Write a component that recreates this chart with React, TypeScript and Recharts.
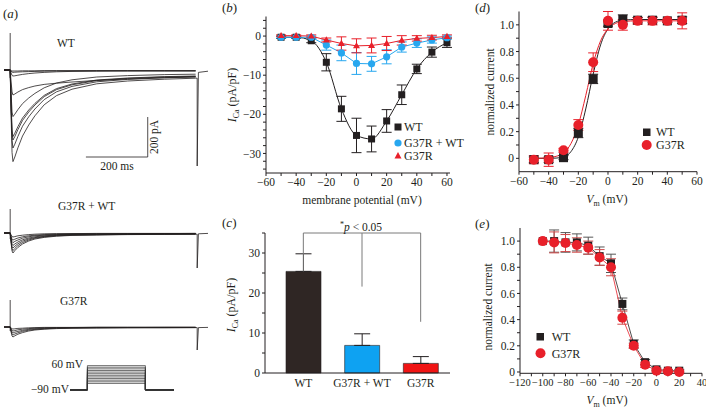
import React from 'react';
import { LineChart, BarChart, Line, Bar, Cell, XAxis, YAxis, ErrorBar, ReferenceLine } from 'recharts';

const FONT = 'Liberation Serif, Times New Roman, serif';
const INK = '#231f20';
const RED = '#e8202a';
const BLUE = '#27a7ef';

// ---------- Panel (a): current traces ----------
const traceTimes = [-20, 0, 3, 6, 9, 15, 25, 40, 60, 80, 110, 150, 200, 280, 380, 500, 600];
const wtTraces = [
  [0, 0, -229, -412, -458, -435, -389, -330, -275, -229, -174, -128, -96, -69, -55, -46, -41],
  [0, 0, -195, -351, -390, -371, -332, -281, -234, -195, -148, -109, -82, -59, -47, -39, -35],
  [0, 0, -175, -315, -350, -333, -298, -252, -210, -175, -133, -98, -74, -53, -42, -35, -32],
  [0, 0, -167, -300, -333, -316, -283, -240, -200, -167, -127, -93, -70, -50, -40, -33, -30],
  [0, 0, -117, -210, -233, -221, -198, -168, -140, -117, -89, -65, -49, -35, -28, -23, -21],
  [0, 0, -60, -110, -125, -120, -110, -98, -88, -80, -72, -66, -60, -52, -45, -38, -34],
  [0, 0, -15, -27, -30, -29, -26, -22, -18, -15, -12, -9, -7, -6, -5, -5, -5],
  [0, 0, -6, -10, -12, -11, -10, -9, -8, -7, -6, -5, -5, -4, -4, -4, -4],
  [0, 0, -3, -5, -5, -5, -5, -4, -4, -4, -3, -3, -3, -3, -3, -3, -3],
];
const mixTraces = [
  [0, 0, -50, -90, -100, -88, -72, -55, -40, -30, -22, -16, -12, -10, -8, -7, -6],
  [0, 0, -44, -79, -88, -77, -63, -48, -35, -26, -19, -14, -11, -9, -7, -6, -5],
  [0, 0, -38, -68, -75, -66, -54, -41, -30, -23, -17, -12, -9, -8, -6, -5, -5],
  [0, 0, -31, -56, -62, -55, -45, -34, -25, -19, -14, -10, -7, -6, -5, -4, -4],
  [0, 0, -24, -43, -48, -42, -35, -26, -19, -14, -11, -8, -6, -5, -4, -3, -3],
  [0, 0, -18, -32, -35, -31, -25, -19, -14, -11, -8, -6, -4, -4, -3, -3, -2],
  [0, 0, -10, -18, -20, -18, -14, -11, -8, -6, -4, -3, -3, -2, -2, -2, -2],
];
const g37rTraces = [
  [0, 0, -25, -45, -50, -44, -36, -28, -20, -15, -11, -8, -6, -5, -4, -4, -3],
  [0, 0, -20, -36, -40, -35, -29, -22, -16, -12, -9, -6, -5, -4, -3, -3, -3],
  [0, 0, -15, -27, -30, -26, -22, -17, -12, -9, -7, -5, -4, -3, -3, -2, -2],
  [0, 0, -10, -18, -20, -18, -14, -11, -8, -6, -4, -3, -3, -2, -2, -2, -2],
  [0, 0, -5, -9, -10, -9, -7, -6, -4, -3, -2, -2, -2, -1, -1, -1, -1],
];
const artifactTimes = [0, 0];
const wtArtifact = [185, -40];
const mixArtifact = [120, -30];
const g37rArtifact = [135, -20];
const tailTimes = [600, 605, 605, 609, 640];
const wtTail = [-41, -41, -480, -12, -6];
const mixTail = [-6, -6, -175, -4, -2];
const g37rTail = [-3, -3, -115, -3, -2];
const scaleBarTimes = [245, 445, 445];
const scaleBarCurrents = [-435, -435, -235];

// voltage protocol
const protocolTimes = [-180, 0, 0, 600, 600, 900];
const holdingPotential = -90;
const stepLevels = [-50, -40, -30, -20, -10, 0, 10, 20, 30, 40, 50, 60];

// ---------- Panel (b): I-V ----------
const ivVoltages = [-50, -40, -30, -20, -10, 0, 10, 20, 30, 40, 50, 60];
const ivWT = [-0.3, -0.3, -1.2, -6.7, -18.6, -25.4, -26.3, -21.7, -15.0, -8.4, -4.1, -1.7];
const ivWTErr = [0.3, 0.3, 0.5, 2.2, 3.2, 4.4, 3.3, 2.9, 2.5, 1.2, 1.3, 1.2];
const ivMix = [-0.3, -0.3, -0.3, -2.3, -4.3, -7.0, -7.1, -5.3, -2.8, -1.8, -1.0, -0.4];
const ivMixErr = [0.2, 0.2, 0.3, 1.3, 2.0, 2.8, 1.9, 1.8, 1.3, 1.1, 0.8, 0.4];
const ivG37R = [0.1, 0.1, 0.0, -1.0, -1.9, -2.5, -2.4, -1.9, -1.1, -0.6, -0.4, -0.1];
const ivG37RErr = [0.2, 0.2, 0.3, 0.5, 1.7, 1.8, 1.9, 1.8, 1.2, 0.7, 0.6, 0.4];
const ivXTicks = [-60, -50, -40, -30, -20, -10, 0, 10, 20, 30, 40, 50, 60];
const ivYTicks = [4, 2, 0, -2, -4, -6, -8, -10, -12, -14, -16, -18, -20, -22, -24, -26, -28, -30, -32, -34];

// ---------- Panel (c): bars ----------
const barGroups = ['WT', 'G37R + WT', 'G37R'];
const barMeans = [25.4, 6.9, 2.4];
const barErrs = [4.4, 2.9, 1.7];
const barColors = ['#2f2624', '#0ea2f2', '#f01414'];
const barYTicks = [0, 5, 10, 15, 20, 25, 30, 35];
const bracketTop = 35;
const bracketEnds = [25.4, 21.6, 12.8];

// ---------- Panel (d): activation ----------
const actV = [-50, -40, -30, -20, -10, 0, 10, 20, 30, 40, 50];
const actWT = [-0.01, -0.01, 0.005, 0.19, 0.595, 1.01, 1.04, 1.035, 1.035, 1.03, 1.035];
const actWTErr = [0.02, 0.02, 0.015, 0.035, 0.035, 0.02, 0.035, 0.02, 0.02, 0.01, 0.025];
const actG = [-0.01, -0.01, 0.06, 0.25, 0.72, 1.03, 1.0, 1.03, 1.03, 1.03, 1.03];
const actGErr = [0.03, 0.05, 0.015, 0.04, 0.07, 0.07, 0.04, 0.025, 0.03, 0.01, 0.06];
const fitV = [-50, -40, -35, -30, -25, -20, -15, -10, -5, 0, 5, 10, 20, 30, 40, 50];
const fitWT = [0, 0, 0.002, 0.01, 0.05, 0.16, 0.37, 0.63, 0.85, 0.97, 1.02, 1.035, 1.04, 1.04, 1.04, 1.04];
const fitG = [0, 0.005, 0.015, 0.04, 0.11, 0.25, 0.47, 0.71, 0.88, 0.97, 1.01, 1.025, 1.03, 1.03, 1.03, 1.03];
const actXTicks = [-60, -50, -40, -30, -20, -10, 0, 10, 20, 30, 40, 50, 60];
const normYTicks = [0, 0.1, 0.2, 0.3, 0.4, 0.5, 0.6, 0.7, 0.8, 0.9, 1.0];
const normYLabels = [0, 0.2, 0.4, 0.6, 0.8, 1.0];

// ---------- Panel (e): inactivation ----------
const inV = [-100, -90, -80, -70, -60, -50, -40, -30, -20, -10, 0, 10, 20];
const inWT = [1.0, 1.0, 0.99, 0.99, 0.965, 0.885, 0.83, 0.52, 0.215, 0.075, 0.02, 0.01, 0.01];
const inWTErr = [0, 0.085, 0.075, 0.065, 0.065, 0.07, 0.07, 0.045, 0.03, 0.02, 0.01, 0.01, 0.01];
const inG = [1.0, 0.99, 0.985, 0.97, 0.95, 0.875, 0.80, 0.415, 0.20, 0.055, 0.01, 0.005, 0.0];
const inGErr = [0, 0.08, 0.065, 0.055, 0.05, 0.06, 0.065, 0.05, 0.02, 0.02, 0.01, 0.01, 0.01];
const inXTicks = [-120, -110, -100, -90, -80, -70, -60, -50, -40, -30, -20, -10, 0, 10, 20, 30, 40];

// ---------- helpers ----------
const toSeries = (times: number[], vals: number[]) => times.map((t, i) => ({ t, v: vals[i] }));
const minus = (v: number) => (v < 0 ? '\u2212' + Math.abs(v) : String(v));
const every20 = (v: number) => (Math.round(v) % 20 === 0 ? minus(v) : '');
const every10 = (v: number) => (Math.round(v) % 10 === 0 ? minus(v) : '');
const normFmt = (v: number) => {
  const hit = normYLabels.some((l) => Math.abs(l - v) < 1e-6);
  if (!hit) return '';
  return Math.abs(v) < 1e-6 ? '0' : v.toFixed(1);
};

const tickStyle = { fontSize: 11.5, fill: INK, fontFamily: FONT };
const smallTickStyle = { fontSize: 10.5, fill: INK, fontFamily: FONT };
const axisLine = { stroke: INK, strokeWidth: 1 };

const squareDot = (size: number, fill: string) => (p: any) => {
  if (p.cx == null || p.cy == null) return <g key={`sq${p.index}`} />;
  return <rect key={`sq${p.index}`} x={p.cx - size / 2} y={p.cy - size / 2} width={size} height={size} fill={fill} />;
};
const circleDot = (r: number, fill: string) => (p: any) => {
  if (p.cx == null || p.cy == null) return <g key={`c${p.index}`} />;
  return <circle key={`c${p.index}`} cx={p.cx} cy={p.cy} r={r} fill={fill} />;
};
const triDot = (s: number, fill: string) => (p: any) => {
  if (p.cx == null || p.cy == null) return <g key={`t${p.index}`} />;
  const h = s * 0.87;
  return (
    <polygon
      key={`t${p.index}`}
      points={`${p.cx},${p.cy - h * 0.6} ${p.cx - s / 2},${p.cy + h * 0.4} ${p.cx + s / 2},${p.cy + h * 0.4}`}
      fill={fill}
    />
  );
};

function TracePanel({ left, top, width, height, xDomain, yDomain, series, stroke = INK, strokeWidth = 0.8 }: any) {
  return (
    <div style={{ position: 'absolute', left, top }}>
      <LineChart width={width} height={height} margin={{ top: 0, right: 0, bottom: 0, left: 0 }}>
        <XAxis type="number" dataKey="t" domain={xDomain} hide allowDataOverflow />
        <YAxis type="number" domain={yDomain} hide allowDataOverflow />
        {series.map((d: any, i: number) => (
          <Line
            key={i}
            data={d}
            dataKey="v"
            type="linear"
            stroke={stroke}
            strokeWidth={strokeWidth}
            dot={false}
            activeDot={false}
            isAnimationActive={false}
          />
        ))}
      </LineChart>
    </div>
  );
}

export default function App() {
  const wtSeries = [
    ...wtTraces.map((tr) => toSeries(traceTimes, tr)),
    toSeries(artifactTimes, wtArtifact),
    toSeries(tailTimes, wtTail),
    toSeries(scaleBarTimes, scaleBarCurrents),
  ];
  const mixSeries = [
    ...mixTraces.map((tr) => toSeries(traceTimes, tr)),
    toSeries(artifactTimes, mixArtifact),
    toSeries(tailTimes, mixTail),
  ];
  const g37rSeries = [
    ...g37rTraces.map((tr) => toSeries(traceTimes, tr)),
    toSeries(artifactTimes, g37rArtifact),
    toSeries(tailTimes, g37rTail),
  ];
  const protocolSeries = stepLevels.map((lv) =>
    toSeries(protocolTimes, [holdingPotential, holdingPotential, lv, lv, holdingPotential, holdingPotential])
  );

  const ivData = ivVoltages.map((v, i) => ({
    v,
    wt: ivWT[i],
    wtErr: ivWTErr[i],
    mix: ivMix[i],
    mixErr: ivMixErr[i],
    g: ivG37R[i],
    gErr: ivG37RErr[i],
  }));

  const barData = barGroups.map((g, i) => ({ group: g, mean: barMeans[i], err: [0, barErrs[i]] }));

  const actWTPts = actV.map((v, i) => ({ v, y: actWT[i], e: actWTErr[i] }));
  const actGPts = actV.map((v, i) => ({ v, y: actG[i], e: actGErr[i] }));
  const fitWTData = fitV.map((v, i) => ({ v, y: fitWT[i] }));
  const fitGData = fitV.map((v, i) => ({ v, y: fitG[i] }));

  const inWTPts = inV.map((v, i) => ({ v, y: inWT[i], e: inWTErr[i] }));
  const inGPts = inV.map((v, i) => ({ v, y: inG[i], e: inGErr[i] }));

  return (
    <div style={{ position: 'absolute', left: 0, top: 0, width: 707, height: 410, background: '#fff', overflow: 'hidden', fontFamily: FONT }}>
      {/* Panel (a) traces */}
      <TracePanel left={4} top={30} width={204} height={140} xDomain={[-20, 640]} yDomain={[-500, 200]} series={wtSeries} />
      <TracePanel left={4} top={203} width={204} height={70} xDomain={[-20, 640]} yDomain={[-200, 150]} series={mixSeries} />
      <TracePanel left={4} top={297} width={204} height={60} xDomain={[-20, 640]} yDomain={[-150, 150]} series={g37rSeries} />
      <TracePanel left={70} top={364.1} width={104.4} height={27.5} xDomain={[-180, 900]} yDomain={[-100, 70]} series={protocolSeries} stroke="#333" strokeWidth={0.7} />

      {/* Panel (b) */}
      <div style={{ position: 'absolute', left: 196, top: 0 }}>
        <LineChart width={260} height={213} data={ivData} margin={{ top: 16.5, right: 6, bottom: 0, left: 0 }}>
          <XAxis
            type="number"
            dataKey="v"
            domain={[-60, 62]}
            ticks={ivXTicks}
            interval={0}
            tickFormatter={every20}
            height={40}
            tickSize={3}
            tick={tickStyle}
            axisLine={axisLine}
            tickLine={axisLine}
          />
          <YAxis
            type="number"
            domain={[-35, 5]}
            ticks={ivYTicks}
            interval={0}
            tickFormatter={every10}
            width={70}
            tickSize={3}
            tick={tickStyle}
            axisLine={axisLine}
            tickLine={axisLine}
          />
          <Line dataKey="wt" type="monotone" stroke={INK} strokeWidth={1} dot={squareDot(7, INK)} activeDot={false} isAnimationActive={false}>
            <ErrorBar dataKey="wtErr" width={5} stroke={INK} strokeWidth={1} direction="y" />
          </Line>
          <Line dataKey="mix" type="linear" stroke={BLUE} strokeWidth={1} dot={circleDot(3.6, BLUE)} activeDot={false} isAnimationActive={false}>
            <ErrorBar dataKey="mixErr" width={5} stroke={BLUE} strokeWidth={1} direction="y" />
          </Line>
          <Line dataKey="g" type="linear" stroke={RED} strokeWidth={1} dot={triDot(7, RED)} activeDot={false} isAnimationActive={false}>
            <ErrorBar dataKey="gErr" width={5} stroke={RED} strokeWidth={1} direction="y" />
          </Line>
        </LineChart>
      </div>

      {/* Panel (c) */}
      <div style={{ position: 'absolute', left: 195, top: 220 }}>
        <BarChart width={260} height={183} data={barData} margin={{ top: 13, right: 5, bottom: 0, left: 0 }}>
          <XAxis
            dataKey="group"
            type="category"
            padding={{ left: 9, right: 0 }}
            tickLine={false}
            tickSize={4}
            height={30}
            interval={0}
            tick={tickStyle}
            axisLine={axisLine}
          />
          <YAxis
            type="number"
            domain={[0, 35]}
            ticks={barYTicks}
            interval={0}
            tickFormatter={every10}
            width={70}
            tickSize={3}
            tick={tickStyle}
            axisLine={axisLine}
            tickLine={axisLine}
          />
          <Bar dataKey="mean" barSize={35} stroke={INK} strokeWidth={0.6} isAnimationActive={false}>
            {barData.map((d, i) => (
              <Cell key={d.group} fill={barColors[i]} />
            ))}
            <ErrorBar dataKey="err" width={8} stroke={INK} strokeWidth={1} direction="y" />
          </Bar>
          <ReferenceLine
            segment={[
              { x: barGroups[0], y: bracketTop },
              { x: barGroups[2], y: bracketTop },
            ]}
            stroke="#7a7a7a"
            strokeWidth={1}
            ifOverflow="visible"
          />
          {barGroups.map((g, i) => (
            <ReferenceLine
              key={g}
              segment={[
                { x: g, y: bracketTop },
                { x: g, y: bracketEnds[i] },
              ]}
              stroke="#7a7a7a"
              strokeWidth={1}
              ifOverflow="visible"
            />
          ))}
        </BarChart>
      </div>

      {/* Panel (d) */}
      <div style={{ position: 'absolute', left: 449, top: 0 }}>
        <LineChart width={254} height={201.7} margin={{ top: 11.5, right: 6, bottom: 0, left: 0 }}>
          <XAxis
            type="number"
            dataKey="v"
            domain={[-60, 60]}
            ticks={actXTicks}
            interval={0}
            tickFormatter={every20}
            height={30}
            tickSize={3}
            tick={tickStyle}
            axisLine={axisLine}
            tickLine={axisLine}
          />
          <YAxis
            type="number"
            domain={[-0.1, 1.1]}
            ticks={normYTicks}
            interval={0}
            tickFormatter={normFmt}
            width={70}
            tickSize={3}
            tick={tickStyle}
            axisLine={axisLine}
            tickLine={axisLine}
          />
          <Line data={fitWTData} dataKey="y" type="monotone" stroke={INK} strokeWidth={1} dot={false} activeDot={false} isAnimationActive={false} />
          <Line data={fitGData} dataKey="y" type="monotone" stroke={RED} strokeWidth={1} dot={false} activeDot={false} isAnimationActive={false} />
          <Line data={actWTPts} dataKey="y" stroke="none" dot={squareDot(9, INK)} activeDot={false} isAnimationActive={false}>
            <ErrorBar dataKey="e" width={5} stroke={INK} strokeWidth={1} direction="y" />
          </Line>
          <Line data={actGPts} dataKey="y" stroke="none" dot={circleDot(5, RED)} activeDot={false} isAnimationActive={false}>
            <ErrorBar dataKey="e" width={5} stroke={RED} strokeWidth={1} direction="y" />
          </Line>
        </LineChart>
      </div>

      {/* Panel (e) */}
      <div style={{ position: 'absolute', left: 450, top: 215 }}>
        <LineChart width={256} height={188.3} margin={{ top: 13, right: 4, bottom: 0, left: 0 }}>
          <XAxis
            type="number"
            dataKey="v"
            domain={[-120, 40]}
            ticks={inXTicks}
            interval={0}
            tickFormatter={every20}
            height={30}
            tickSize={3}
            tick={smallTickStyle}
            axisLine={axisLine}
            tickLine={axisLine}
          />
          <YAxis
            type="number"
            domain={[0, 1.1]}
            ticks={normYTicks}
            interval={0}
            tickFormatter={normFmt}
            width={70}
            tickSize={3}
            tick={tickStyle}
            axisLine={axisLine}
            tickLine={axisLine}
          />
          <Line data={inWTPts} dataKey="y" type="linear" stroke={INK} strokeWidth={0.8} dot={squareDot(8, INK)} activeDot={false} isAnimationActive={false}>
            <ErrorBar dataKey="e" width={5} stroke="#555" strokeWidth={1} direction="y" />
          </Line>
          <Line data={inGPts} dataKey="y" type="linear" stroke={RED} strokeWidth={0.8} dot={circleDot(5, RED)} activeDot={false} isAnimationActive={false}>
            <ErrorBar dataKey="e" width={5} stroke="#d04a4a" strokeWidth={1} direction="y" />
          </Line>
        </LineChart>
      </div>

      {/* Text & legends overlay */}
      <svg width={707} height={410} style={{ position: 'absolute', left: 0, top: 0, pointerEvents: 'none' }} fontFamily={FONT} fill={INK}>
        <text x={3} y={18} fontSize={13}>(<tspan fontStyle="italic">a</tspan>)</text>
        <text x={222} y={12} fontSize={13}>(<tspan fontStyle="italic">b</tspan>)</text>
        <text x={222} y={227} fontSize={13}>(<tspan fontStyle="italic">c</tspan>)</text>
        <text x={475} y={12} fontSize={13}>(<tspan fontStyle="italic">d</tspan>)</text>
        <text x={475} y={228} fontSize={13}>(<tspan fontStyle="italic">e</tspan>)</text>

        <text x={57} y={47} fontSize={11.5}>WT</text>
        <text x={58} y={210} fontSize={11.5}>G37R + WT</text>
        <text x={60} y={305} fontSize={11.5}>G37R</text>
        <text x={117} y={170} fontSize={11.5} textAnchor="middle">200 ms</text>
        <text transform="translate(158,137) rotate(-90)" fontSize={11.5} textAnchor="middle">200 pA</text>
        <text x={83} y={368} fontSize={11.5} textAnchor="end">60 mV</text>
        <text x={69} y={393} fontSize={11.5} textAnchor="end">{'\u221290 mV'}</text>

        {/* (b) labels */}
        <text transform="translate(236,95) rotate(-90)" fontSize={12} textAnchor="middle">
          <tspan fontStyle="italic">I</tspan>
          <tspan fontSize={8} dy={3}>Ca</tspan>
          <tspan dy={-3}> (pA/pF)</tspan>
        </text>
        <text x={362} y={204} fontSize={11.5} textAnchor="middle">membrane potential (mV)</text>
        <rect x={394.5} y={123.5} width={7} height={7} fill={INK} />
        <text x={404} y={131} fontSize={12}>WT</text>
        <circle cx={398} cy={143} r={3.6} fill={BLUE} />
        <text x={404} y={147} fontSize={12}>G37R + WT</text>
        <polygon points="398,152 394.5,158.5 401.5,158.5" fill={RED} />
        <text x={404} y={160} fontSize={12}>G37R</text>

        {/* (c) labels */}
        <text transform="translate(235,305) rotate(-90)" fontSize={12} textAnchor="middle">
          <tspan fontStyle="italic">I</tspan>
          <tspan fontSize={8} dy={3}>Ca</tspan>
          <tspan dy={-3}> (pA/pF)</tspan>
        </text>
        <text x={340} y={231} fontSize={11.5}>
          <tspan fontSize={8} dy={-4}>*</tspan>
          <tspan fontStyle="italic" dy={4}>p</tspan>
          <tspan>{' < 0.05'}</tspan>
        </text>

        {/* (d) labels */}
        <text transform="translate(494,92) rotate(-90)" fontSize={11.5} textAnchor="middle">normalized current</text>
        <text x={607} y={203} fontSize={11.5} textAnchor="middle">
          <tspan fontStyle="italic">V</tspan>
          <tspan fontSize={8} dy={3}>m</tspan>
          <tspan dy={-3}> (mV)</tspan>
        </text>
        <rect x={643} y={128.5} width={7.5} height={7.5} fill={INK} />
        <text x={656} y={136} fontSize={12}>WT</text>
        <circle cx={646.7} cy={145} r={5} fill={RED} />
        <text x={656} y={149} fontSize={12}>G37R</text>

        {/* (e) labels */}
        <text transform="translate(492,307) rotate(-90)" fontSize={11.5} textAnchor="middle">normalized current</text>
        <text x={607} y={404} fontSize={11.5} textAnchor="middle">
          <tspan fontStyle="italic">V</tspan>
          <tspan fontSize={8} dy={3}>m</tspan>
          <tspan dy={-3}> (mV)</tspan>
        </text>
        <rect x={536.5} y={333} width={7.5} height={7.5} fill={INK} />
        <text x={551.7} y={341} fontSize={12}>WT</text>
        <circle cx={540.5} cy={353.3} r={5} fill={RED} />
        <text x={551.7} y={357.5} fontSize={12}>G37R</text>
      </svg>
    </div>
  );
}
